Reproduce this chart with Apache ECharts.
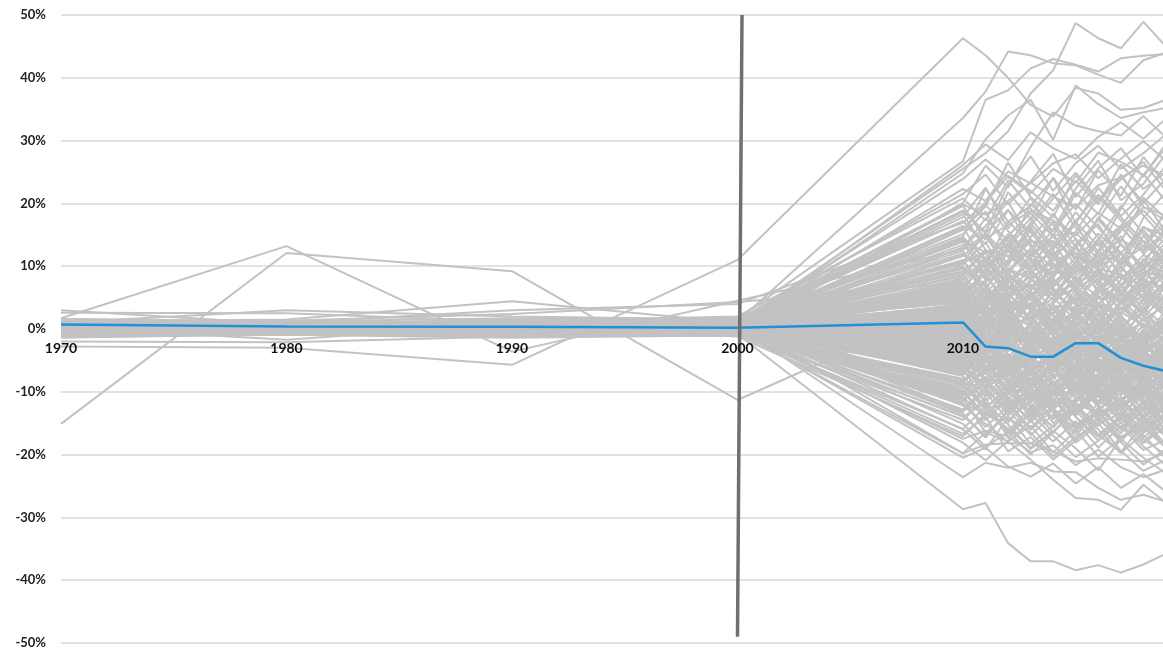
<!DOCTYPE html>
<html>
<head>
<meta charset="utf-8">
<script src="https://cdn.jsdelivr.net/npm/echarts@6/dist/echarts.min.js"></script>
<style>
  html, body { margin: 0; padding: 0; background: #ffffff; }
  #chart { width: 1163px; height: 652px; }
</style>
</head>
<body>
<div id="chart"></div>
<script>
// Observation years: decadal up to 2010, then annual.
const years = [1970, 1980, 1990, 2000, 2010, 2011, 2012, 2013, 2014, 2015, 2016, 2017, 2018, 2019];

// Axis ticks and visible range
const yTicks = [-50, -40, -30, -20, -10, 0, 10, 20, 30, 40, 50];
const xTicks = [1970, 1980, 1990, 2000, 2010];
const xRange = [1970, 2018.87];

// Average change (%), drawn in blue
const averageChange = [0.7, 0.4, 0.35, 0.2, 1.05, -2.8, -3.05, -4.4, -4.4, -2.25, -2.25, -4.6, -5.85, -6.7];

// Break marker at 2000 (year, %)
const breakYears = [2000.2, 2000.0];
const breakValues = [50, -49];

// Paths ending high
const risingPaths = [
  [0.9, 0.5, 1.1, 0.8, 25.5, 28.0, 31.5, 37.5, 41.2, 48.7, 46.3, 44.7, 48.9, 45.0],
  [0.4, 0.2, 0.6, 1.2, 33.6, 37.8, 44.2, 43.6, 42.3, 42.0, 40.5, 39.2, 42.8, 44.0],
  [-2.8, -3.0, -5.7, 11.0, 46.3, 43.6, 40.0, 35.7, 33.8, 38.4, 37.5, 34.9, 35.2, 36.5],
  [-0.2, 0.3, 0.9, 1.7, 26.7, 36.5, 38.0, 41.5, 43.0, 42.1, 41.0, 43.1, 43.5, 43.8],
  [1.1, 0.6, 0.4, 0.3, 24.8, 30.2, 34.0, 36.5, 30.1, 38.8, 35.8, 33.6, 34.5, 35.2],
  [0.6, -0.2, 0.2, -0.6, 20.1, 26.0, 22.5, 29.0, 34.5, 32.4, 31.5, 30.8, 33.9, 30.5],
  [-0.5, 0.1, 1.4, 0.9, 18.7, 15.5, 23.0, 27.5, 22.0, 26.4, 29.2, 25.5, 28.0, 31.0],
  [0.2, 0.7, -0.4, 1.5, 21.5, 24.6, 19.8, 23.5, 27.9, 21.0, 25.6, 28.8, 24.2, 29.5],
  [1.5, 0.9, 0.5, -0.1, 15.8, 19.5, 26.5, 21.0, 17.8, 24.5, 20.2, 23.8, 26.6, 22.0],
  [-0.9, -0.3, 0.8, 0.6, 14.7, 22.3, 17.1, 19.6, 24.0, 16.8, 22.5, 18.0, 21.4, 26.0],
  [0.5, 0.3, 0.6, 0.6, 22.3, 20.4, 25.1, 23.2, 26.4, 27.8, 24.0, 27.1, 29.9, 26.8],
  [-0.2, 0.1, 0.4, 0.8, 23.9, 27.0, 24.2, 21.6, 25.5, 23.3, 28.1, 26.6, 24.5, 28.9],
  [-0.5, -0.1, 0.3, 0.2, 26.1, 29.4, 26.9, 31.3, 28.8, 27.1, 30.6, 32.9, 30.3, 33.5],
  [-15.1, 12.1, 9.2, -11.3, 4.6, 6.5, 3.2, 8.0, 5.5, 9.8, 7.1, 4.0, 6.6, 8.2],
  [1.7, 13.2, -3.6, 4.5, 12.6, 15.0, 10.3, 14.1, 11.5, 17.0, 13.2, 16.5, 12.0, 15.1]
];

// Paths ending low
const fallingPaths = [
  [0.6, 0.4, -0.2, -0.8, -28.7, -27.7, -34.1, -37.0, -37.0, -38.4, -37.6, -38.8, -37.5, -35.8],
  [-0.1, -0.6, 0.3, 0.4, -23.6, -21.3, -22.1, -21.3, -22.7, -22.8, -25.3, -27.2, -26.4, -27.5],
  [1.0, 0.3, 0.9, -0.4, -19.8, -16.5, -17.9, -20.8, -24.0, -26.9, -27.2, -28.8, -24.8, -27.7],
  [-0.7, 0.2, -0.9, 1.0, -19.8, -18.4, -18.2, -18.2, -19.5, -21.1, -20.6, -20.8, -21.1, -19.7],
  [0.3, -0.3, 0.6, -1.2, -17.1, -13.5, -15.8, -18.9, -16.2, -19.0, -22.5, -17.5, -20.5, -23.0],
  [0.8, 0.5, -0.5, 0.2, -16.0, -19.2, -14.1, -16.5, -20.3, -17.2, -15.0, -19.4, -22.6, -20.8],
  [-1.4, -0.7, 0.2, -0.9, -14.5, -11.0, -17.4, -13.2, -15.5, -12.1, -16.8, -14.0, -18.2, -15.5],
  [0.1, 0.9, 1.2, 0.6, -11.8, -15.6, -12.3, -16.1, -12.8, -15.9, -13.3, -17.5, -13.9, -17.0],
  [0.5, -0.1, -1.1, -0.3, -8.1, -12.5, -9.8, -14.0, -10.4, -13.5, -9.6, -12.9, -16.0, -12.2],
  [-0.3, 0.4, 0.7, 1.3, -13.0, -9.2, -13.8, -10.1, -14.4, -9.8, -14.7, -11.1, -9.5, -14.0],
  [0.8, 0.4, 0.1, -0.3, -20.5, -18.9, -21.9, -23.5, -21.4, -24.6, -22.0, -25.3, -23.1, -25.9],
  [-0.3, -0.4, -0.6, -0.5, -17.5, -16.2, -17.1, -19.6, -18.5, -21.7, -19.2, -22.0, -23.6, -22.4]
];

// Paths in the upper part of the band
const upperPaths = [
  [0.6, 0.3, 0.9, 1.1, 19.6, 14.2, 21.8, 17.5, 24.1, 19.0, 25.3, 21.2, 27.4, 23.0],
  [-0.4, 0.1, 0.5, 0.8, 17.8, 22.5, 16.0, 20.9, 14.8, 21.7, 18.3, 24.6, 19.5, 17.2],
  [3.0, 0.8, 1.5, 0.8, 16.2, 10.5, 15.1, 11.8, 18.4, 13.0, 9.7, 16.2, 12.5, 19.0],
  [0.2, -0.3, 0.4, 0.9, 15.1, 18.7, 12.3, 19.9, 16.5, 11.2, 17.8, 13.9, 20.6, 15.4],
  [0.9, 0.6, 0.2, 0.5, 13.9, 8.8, 14.6, 9.5, 12.7, 16.9, 10.4, 14.8, 8.6, 12.1],
  [-0.8, -0.5, -0.2, 0.3, 13.0, 16.4, 20.2, 14.3, 10.9, 15.5, 21.0, 17.3, 13.1, 18.8],
  [1.5, 1.0, 0.7, 1.4, 12.4, 7.9, 11.0, 15.8, 10.2, 6.8, 12.6, 9.1, 14.9, 10.3],
  [0.3, 0.7, 1.2, -0.2, 11.6, 14.9, 9.3, 12.8, 17.1, 12.0, 8.5, 13.5, 10.0, 16.6],
  [-0.2, 0.4, 0.8, 0.6, 11.0, 5.6, 9.7, 6.2, 11.8, 14.3, 9.0, 5.3, 11.2, 7.7],
  [1.0, 0.2, -0.5, 1.9, 10.3, 13.8, 8.1, 16.2, 11.4, 8.9, 14.1, 19.6, 15.2, 12.0],
  [0.5, 0.9, 0.3, 0.1, 9.8, 6.1, 12.5, 8.0, 4.6, 10.8, 7.2, 12.3, 6.5, 9.4],
  [-0.6, -0.1, 0.6, 1.3, 9.2, 12.1, 7.4, 10.6, 13.9, 8.4, 11.7, 7.0, 10.9, 14.5],
  [0.8, 0.4, 1.0, 0.4, 8.6, 4.2, 7.8, 3.1, 6.9, 11.5, 5.8, 8.9, 4.7, 7.1],
  [2.6, 2.5, 1.2, 2.0, 20.8, 17.3, 23.7, 19.2, 15.6, 22.4, 26.8, 20.5, 23.1, 27.9],
  [0.0, 0.5, 0.1, 0.7, 18.3, 12.6, 10.1, 17.0, 21.5, 16.1, 12.4, 19.1, 24.7, 20.3],
  [-1.1, -0.6, -0.8, -0.3, 14.4, 9.9, 17.2, 13.5, 8.1, 13.6, 16.7, 11.0, 16.3, 13.6],
  [0.7, 1.1, 0.4, 0.2, 12.9, 17.6, 14.0, 8.7, 13.3, 18.6, 14.6, 10.5, 17.7, 21.8],
  [0.5, 1.0, 3.0, 4.0, 16.9, 20.1, 24.4, 22.0, 18.8, 23.6, 19.9, 26.2, 22.3, 25.0],
  [0.4, 0.0, -0.4, 0.5, 10.7, 15.3, 19.0, 13.1, 9.6, 12.9, 17.5, 22.7, 18.1, 14.2],
  [-0.3, 0.3, 0.7, -0.5, 7.9, 11.3, 5.5, 9.8, 15.0, 10.1, 6.3, 10.2, 15.8, 11.5],
  [1.2, 0.9, 0.7, 1.1, 14.1, 12.2, 13.4, 10.0, 12.2, 9.0, 11.5, 14.2, 12.4, 15.6],
  [0.8, 0.5, 1.0, 0.8, 9.1, 8.2, 10.8, 13.9, 14.0, 11.5, 9.9, 12.0, 16.2, 14.8],
  [0.6, 0.4, 0.6, 0.9, 10.5, 12.4, 11.6, 9.2, 10.5, 6.4, 8.7, 8.1, 10.4, 9.0],
  [0.7, 0.6, 0.7, 0.4, 16.4, 14.4, 16.6, 18.8, 17.3, 14.9, 18.5, 16.0, 19.4, 18.1],
  [1.0, 0.9, 1.2, 1.4, 19.8, 18.2, 20.4, 23.3, 21.1, 19.3, 22.9, 24.1, 26.0, 24.4],
  [1.0, 0.7, 0.6, 0.4, 11.8, 10.0, 12.9, 11.3, 14.9, 15.3, 12.0, 10.6, 13.1, 17.0]
];

// Paths in the middle of the band
const corePaths = [
  [0.5, 0.2, 0.4, 0.3, 7.6, 2.1, 5.9, 1.0, 4.4, 8.3, 3.0, -1.2, 2.8, -0.5],
  [-0.5, -0.2, -0.7, -0.4, 7.1, 3.5, -0.8, 2.6, -2.9, 1.7, 5.2, 0.4, -3.1, 1.9],
  [1.0, 3.0, 2.0, 1.5, 6.8, 10.2, 4.9, 7.5, 11.6, 6.0, 2.1, 6.7, 9.8, 4.3],
  [0.2, -0.1, 0.3, 0.0, 6.3, 1.5, -2.7, -0.6, -5.1, -1.8, -6.0, -2.4, -7.3, -4.5],
  [-1.0, -0.7, -1.2, -0.8, 5.9, 0.2, 3.7, -1.9, 1.4, -3.3, 0.8, -4.6, -2.0, -6.1],
  [0.8, 0.5, 0.1, 0.6, 5.5, 8.9, 3.2, 5.8, 0.9, 4.7, 8.1, 2.5, 6.4, 3.6],
  [1.6, 1.2, 1.7, 1.5, 5.0, -0.9, 2.2, -3.6, -0.3, -4.8, -1.5, -5.9, -3.0, -8.2],
  [-0.3, 0.1, -0.5, 0.2, 4.7, 7.3, 1.6, 3.9, -1.0, 2.9, 6.6, 1.1, -2.2, 0.7],
  [0.3, 0.6, 0.8, 0.9, 4.3, -1.7, -4.9, -2.2, -6.8, -3.9, -8.1, -5.2, -9.4, -6.6],
  [-0.7, -0.4, -0.1, -0.6, 4.0, 9.6, 6.1, 12.2, 7.9, 4.2, 9.3, 5.4, 11.0, 6.8],
  [1.4, 0.9, 1.1, 0.8, 3.6, -2.5, 0.6, -4.3, -1.3, -6.5, -3.6, 0.3, -4.9, -2.8],
  [0.1, 0.3, -0.2, 0.4, 3.3, 6.0, 1.9, -0.7, 3.5, 0.0, -3.4, 1.8, -1.6, 3.0],
  [-1.3, -0.9, -1.4, -1.0, 3.0, -3.8, -7.5, -5.0, -9.2, -6.1, -10.4, -7.7, -11.5, -9.0],
  [0.6, 0.1, 0.5, 0.1, 2.7, 5.1, -0.4, 2.0, -3.2, 1.2, -1.9, -5.3, -0.8, -4.0],
  [0.9, 0.6, 1.4, 1.0, 2.4, -1.0, 4.5, 0.5, 6.3, 2.4, -0.9, 4.1, 7.5, 2.6],
  [-0.1, -0.3, 0.0, -0.2, 2.1, -4.5, -1.2, -6.9, -3.5, -8.8, -5.7, -10.1, -6.8, -11.9],
  [0.4, 0.8, 0.6, 0.3, 1.8, 4.6, 8.2, 3.4, 0.1, 5.0, 1.6, -1.8, 3.3, 0.4],
  [-0.9, -0.5, -0.6, -0.9, 1.5, -2.0, -5.6, -1.5, -4.6, -0.2, -3.9, -7.4, -2.5, -5.8],
  [1.2, 0.4, 0.2, 0.7, 1.2, -5.3, -2.1, -8.0, -4.2, -9.9, -7.1, -3.5, -8.9, -12.3],
  [0.0, 0.2, 0.9, 0.5, 0.9, 3.0, -0.1, 5.7, 2.3, -1.4, 3.8, 7.2, 1.9, 5.5],
  [-0.4, -0.8, -0.3, -0.1, 0.6, -3.1, 1.3, -2.6, -6.3, -2.7, -7.0, -3.8, -8.4, -5.0],
  [0.7, 0.3, 0.7, 1.1, 0.3, 6.2, 2.7, -1.3, 4.0, 8.0, 3.6, -0.3, 4.8, 9.2],
  [0.3, -1.7, 0.8, 0.5, 0.0, -6.0, -9.3, -6.4, -10.5, -7.4, -11.8, -8.8, -13.0, -10.2],
  [-0.2, 0.0, 0.2, -0.3, -0.3, 2.5, -3.4, 0.8, -4.8, -1.6, 1.5, -3.7, -0.1, -5.5],
  [0.3, -0.4, -0.9, -0.7, -0.6, -4.0, -0.6, -5.2, -1.8, -5.9, -2.8, -6.6, -9.6, -7.0],
  [-1.2, -0.6, -1.0, -1.1, -0.9, 3.9, 0.2, 4.2, -0.5, 3.1, -2.1, 2.2, -1.8, 2.1],
  [0.5, 0.5, 0.3, 0.2, -1.2, -7.2, -3.9, -9.7, -6.0, -11.3, -8.2, -12.6, -9.9, -13.7],
  [1.0, 0.8, 1.2, 0.9, -1.5, 1.4, -2.4, 3.0, -1.1, -4.4, 0.5, -2.9, 1.7, -1.3],
  [-0.6, -0.3, -0.4, -0.5, -1.8, -5.9, -8.4, -4.1, -7.7, -3.0, -6.4, -9.9, -5.6, -8.6],
  [0.2, 0.6, 0.4, 0.8, -2.1, 0.9, 4.8, 1.5, 6.2, 2.8, -0.7, 3.5, 0.2, 4.9],
  [0.8, 0.2, -0.1, 0.0, -2.4, -6.8, -4.4, -8.9, -5.4, -2.2, -6.7, -3.2, -7.8, -4.8],
  [-0.3, -0.1, -0.7, -0.4, -2.7, -0.5, -3.6, 1.1, -2.5, 0.6, -4.4, -1.0, -5.5, -2.3],
  [1.3, 0.7, 0.8, 1.4, -3.0, -8.6, -11.2, -7.8, -12.7, -9.6, -13.9, -10.8, -15.2, -12.0],
  [0.0, 0.4, 0.6, 0.2, -3.3, 1.7, -1.5, 2.9, -0.9, -5.0, -1.4, -6.2, -2.7, 0.3],
  [-0.8, -0.6, -0.9, -0.6, -3.6, -6.4, -2.6, -7.3, -3.7, -8.0, -4.5, -1.1, -6.0, -9.6],
  [0.6, 0.1, 0.1, 0.4, -3.9, -1.2, -5.8, -2.0, -6.9, -3.4, -9.0, -5.4, -10.4, -7.5],
  [-0.1, -0.2, 0.3, -0.1, -4.2, -9.7, -6.3, -11.5, -8.3, -12.9, -9.5, -6.0, -11.7, -14.6],
  [1.5, 1.0, 1.0, 0.7, -4.5, -0.4, -3.0, 0.9, -4.1, -7.6, -3.2, -8.5, -4.4, -9.0],
  [0.4, 0.3, -0.3, 0.3, -4.8, -8.0, -12.4, -9.1, -6.0, -10.7, -14.1, -11.4, -8.2, -12.8],
  [-0.5, -0.9, -0.5, -0.8, -5.1, -2.3, -7.0, -3.9, -1.5, -6.3, -2.0, -7.1, -3.6, -8.1],
  [0.9, 0.4, 0.7, 0.9, -5.4, -10.8, -8.1, -13.6, -10.2, -7.1, -12.0, -9.3, -14.3, -11.0],
  [-0.2, 0.2, 0.0, 0.1, -5.7, -3.6, -8.8, -5.9, -10.6, -8.4, -5.1, -10.0, -7.0, -11.4],
  [0.1, 0.0, 0.5, 0.6, -6.0, -1.9, 0.9, -3.4, 1.8, -2.0, -5.6, -1.7, -6.4, -3.1],
  [-1.1, -0.8, -1.1, -0.7, -6.3, -11.9, -15.0, -10.3, -13.1, -16.4, -12.5, -15.9, -13.0, -16.9],
  [0.7, 0.6, 0.2, 0.5, -6.6, -4.4, -9.9, -7.2, -11.8, -5.6, -9.7, -13.1, -8.8, -11.6],
  [0.2, 0.1, 0.4, 0.0, -6.9, -3.0, -6.2, -2.3, -5.8, -10.1, -7.5, -4.2, -9.5, -6.3],
  [1.2, 1.5, 4.4, 1.0, 6.0, 11.5, 7.0, 3.7, 8.6, 12.9, 7.6, 3.9, 8.2, 13.3],
  [-0.4, -0.1, -0.2, 0.2, 5.2, 0.8, 6.9, 4.6, 10.4, 5.8, 1.1, 6.9, 3.2, 8.0],
  [0.6, 0.5, 0.9, 0.3, 3.8, 7.9, 12.9, 9.1, 5.3, 9.2, 13.8, 8.3, 5.0, 10.6],
  [-0.6, -0.4, -0.8, -0.2, 2.5, -0.3, -4.0, -7.1, -2.4, -6.8, -10.9, -6.9, -3.4, -7.9],
  [0.3, 0.7, 0.1, 0.5, 1.0, 4.1, 9.0, 5.5, 1.1, 6.4, 10.8, 5.7, 2.4, 7.2],
  [1.0, 0.3, 0.6, 0.6, -0.4, -2.8, 2.0, -1.6, -4.5, 1.0, -2.3, -5.6, -1.4, -6.9],
  [-0.7, -0.2, -0.6, -0.3, -1.0, 2.4, 6.8, 3.3, 7.6, 4.5, 0.9, 5.8, 2.1, -0.6],
  [0.0, -0.5, 0.3, -0.6, -2.0, -4.8, -10.0, -12.4, -8.7, -13.8, -10.1, -14.5, -11.6, -16.2],
  [0.5, 0.6, 0.9, 0.7, -3.5, 0.4, 3.4, -1.6, 3.9, 0.6, 4.3, -0.6, -4.1, 1.5],
  [-0.9, -0.7, -0.4, -0.9, -4.6, -7.0, -3.3, 0.5, -3.0, -7.3, -3.9, 0.1, -4.7, -8.6],
  [0.8, 1.3, 2.4, 4.3, 7.4, 4.3, 9.1, 12.6, 6.7, 9.9, 14.4, 10.0, 6.0, 10.9],
  [0.2, -0.2, -0.1, 0.0, -5.9, -9.1, -5.0, -10.4, -14.2, -11.2, -7.8, -12.2, -16.4, -13.4],
  [-0.5, 0.2, 0.5, 0.4, 0.4, -2.2, -6.1, -3.1, 0.3, -4.4, -8.6, -4.6, -1.2, -6.2],
  [0.8, 0.6, 0.4, 0.8, -2.9, -5.5, -1.8, -4.7, -0.1, -4.9, -1.2, -5.0, -0.6, -3.8]
];

// Further paths through the middle of the band
const driftPaths = [
  [0.9, 0.4, 1.3, 0.6, 5.8, 3.2, 7.9, 9.4, 6.1, 2.5, 4.8, 8.7, 5.0, 1.9],
  [-0.2, 0.3, -0.6, 0.2, 2.9, 6.5, 4.1, -1.8, -4.0, 0.7, 2.2, -2.9, -6.1, -3.0],
  [0.6, 0.0, 0.2, -0.4, -1.4, -5.2, -6.7, -2.1, 1.6, -0.9, -5.3, -8.9, -6.0, -2.7],
  [1.4, 0.8, 0.3, 1.0, 9.6, 7.0, 2.8, 5.2, 9.9, 13.1, 9.5, 6.0, 2.7, 6.8],
  [-0.6, -0.2, 0.4, -0.1, -4.4, -0.8, 2.5, 4.9, 0.4, -3.6, -7.9, -4.0, 0.8, -1.7],
  [0.2, 0.5, 0.9, 1.3, 12.0, 8.3, 4.5, 9.0, 6.6, 1.8, 5.5, 11.2, 7.9, 4.0],
  [-1.0, -0.5, -0.3, -0.8, -8.5, -5.3, -1.4, -6.0, -9.8, -6.7, -2.6, 1.4, -3.3, -7.2],
  [0.5, 0.2, 0.6, 0.4, 1.6, -2.4, -7.8, -11.0, -6.6, -3.4, -8.0, -12.3, -9.1, -5.2],
  [1.1, 0.6, 1.5, 0.9, 14.6, 11.1, 6.8, 2.9, 7.3, 10.6, 15.2, 11.9, 7.1, 3.5],
  [-0.4, -0.7, -0.6, -0.4, -6.1, -9.5, -13.0, -9.0, -4.9, -8.6, -12.4, -16.1, -12.8, -8.4],
  [0.3, 0.1, 0.5, 0.7, 4.8, 9.0, 13.2, 16.8, 12.5, 7.8, 11.0, 15.6, 18.9, 15.0],
  [-0.1, 0.2, -0.2, -0.3, -2.6, 1.1, -1.9, -6.5, -10.3, -7.0, -3.1, -7.3, -10.6, -14.0],
  [0.8, 0.9, 0.5, 0.2, 8.1, 5.4, 1.2, -2.7, 1.5, 5.6, 1.0, -3.2, -7.0, -3.6],
  [-0.8, -0.3, -1.0, -0.6, -9.9, -13.6, -9.7, -5.6, -1.9, -5.0, -9.3, -5.8, -2.3, -6.0],
  [1.6, 1.1, 0.8, 1.2, 17.2, 13.5, 18.9, 15.3, 11.7, 7.5, 12.2, 16.4, 20.9, 17.6],
  [0.0, -0.1, 0.1, 0.3, -0.1, 3.6, 7.4, 11.2, 8.0, 3.8, 0.0, 4.4, 8.6, 12.4],
  [0.4, 0.6, 0.2, -0.5, -3.8, -7.9, -4.6, -0.3, 3.2, -0.8, -4.6, -1.0, -5.4, -9.3],
  [-0.5, -0.3, 0.1, 0.6, 6.7, 2.9, -1.6, -5.4, -8.9, -5.3, -1.7, -6.1, -2.0, 2.4],
  [1.2, 0.5, 0.6, 0.5, 3.1, -1.1, -5.2, -8.4, -12.1, -8.9, -5.4, -9.7, -13.7, -10.5],
  [-0.3, 0.4, 0.4, 0.0, 10.9, 6.7, 10.4, 14.6, 18.2, 14.4, 10.0, 13.6, 9.4, 13.0],
  [0.7, 0.3, 0.8, 0.2, -5.0, -1.5, 1.8, -2.4, -6.0, -9.6, -5.9, -2.1, 1.6, -2.2],
  [-0.9, -0.6, -0.3, -0.7, -11.2, -7.9, -12.0, -8.1, -4.3, -0.7, -4.9, -8.7, -12.0, -8.6],
  [0.1, 0.2, 0.7, 0.9, 7.3, 11.1, 15.0, 10.8, 6.2, 2.0, -1.9, 2.6, 6.6, 2.2],
  [1.0, 0.7, 0.0, 0.3, -0.7, -4.3, -8.2, -4.5, -8.6, -12.1, -15.4, -11.8, -7.7, -11.3],
  [-0.2, 0.0, 0.3, -0.2, 2.2, 5.9, 2.0, 6.1, 10.1, 6.3, 2.6, -1.3, 2.9, 7.0],
  [0.6, 0.4, -0.4, 0.1, -7.2, -3.3, 0.4, 4.0, 0.3, -3.8, -0.2, -4.1, -8.3, -4.3],
  [-0.7, -0.4, 0.2, 0.4, 13.4, 9.7, 13.8, 17.6, 13.0, 17.2, 21.4, 17.8, 13.9, 9.8],
  [0.3, 0.0, -0.8, -0.9, -13.8, -17.0, -13.1, -9.3, -12.9, -8.9, -12.1, -15.8, -11.9, -8.0],
  [1.3, 0.9, 1.0, 1.6, 4.5, 0.6, -3.5, 0.3, -3.9, -7.5, -3.4, 0.8, -3.8, -7.9],
  [-0.5, -0.5, -0.4, -0.3, -3.1, -6.9, -10.9, -14.9, -11.4, -7.6, -11.5, -7.6, -11.2, -15.3],
  [0.2, 0.3, 0.6, 0.1, 0.8, 4.9, 1.0, 5.0, 1.2, 5.4, 9.6, 5.3, 9.5, 5.6],
  [0.9, 0.6, 0.9, 0.7, 6.4, 10.8, 14.8, 18.5, 14.7, 11.0, 6.9, 3.1, 7.3, 11.6],
  [-0.1, -0.4, -0.2, -0.6, -5.6, -9.2, -5.4, -9.4, -13.2, -16.9, -13.2, -9.4, -5.7, -9.7],
  [0.4, 0.1, 0.3, 0.8, 1.3, -2.7, 1.4, -2.5, 1.7, -2.4, -6.2, -10.2, -6.5, -10.6],
  [-1.2, -0.7, -0.9, -0.4, -1.9, 2.0, 5.7, 1.7, -2.0, 1.9, 5.9, 9.8, 6.0, 1.8],
  [0.7, 0.5, 0.4, 0.3, 15.9, 19.8, 15.6, 11.6, 15.8, 19.9, 16.1, 12.1, 8.0, 12.2],
  [0.1, -0.1, 0.0, -0.1, -4.1, -0.1, -4.2, -8.1, -4.0, -0.1, 3.9, -0.2, 3.8, 7.8],
  [1.5, 1.0, 1.2, 1.0, 10.0, 5.9, 1.9, 6.0, 2.1, -1.8, 2.3, -1.7, -5.6, -1.5],
  [-0.6, -0.1, -0.5, -0.5, -10.1, -6.4, -2.6, -6.4, -10.2, -14.0, -17.8, -14.1, -18.1, -14.3],
  [0.5, 0.2, 0.7, 0.4, 2.0, -2.3, -5.1, -1.7, 2.6, 6.9, 2.8, -1.4, -6.3, -1.9],
  [0.2, 0.7, 1.1, 1.1, 18.9, 15.2, 11.5, 16.4, 20.8, 24.9, 20.6, 24.3, 20.1, 23.9],
  [-0.3, -0.2, -0.7, -0.9, -15.9, -12.3, -16.2, -20.0, -16.5, -12.8, -9.3, -13.0, -16.9, -20.6],
  [0.9, 0.3, 0.2, 0.6, 5.3, 9.5, 5.7, 1.4, 5.1, 1.3, 5.6, 10.0, 14.1, 10.4],
  [-0.8, -0.4, -0.6, -0.2, -2.3, -6.1, -2.2, -6.0, -9.9, -6.2, -10.0, -13.9, -10.0, -6.2],
  [0.4, 0.8, 0.6, 0.9, 8.4, 12.6, 8.8, 4.7, 8.9, 13.2, 17.4, 13.5, 9.6, 13.9],
  [0.0, 0.1, 0.3, 0.0, -6.4, -2.6, -6.5, -10.5, -6.9, -2.9, 1.0, -3.0, -7.0, -3.2],
  [1.1, 0.8, 1.3, 0.5, 0.1, -3.9, 0.0, 4.1, 8.0, 4.2, 0.2, 4.3, 0.4, -3.5],
  [-0.4, -0.2, -0.1, -0.8, -8.9, -12.8, -8.8, -12.6, -16.4, -12.7, -8.9, -5.1, -9.0, -12.9]
];

// Slow-moving paths near the centre of the band
const steadyPaths = [
  [0.2, 0.4, 0.6, 0.5, 3.5, 1.2, 1.8, -0.9, 0.3, 2.9, 6.4, 5.1, 4.0, 7.7],
  [-0.3, 0.0, -0.4, -0.1, -1.1, -1.6, -4.7, -5.0, -3.2, -4.1, -1.0, -2.6, -6.9, -8.0],
  [0.7, 0.2, 0.3, 0.9, 8.9, 9.3, 6.4, 7.1, 3.0, 4.6, 3.9, 7.8, 11.8, 9.5],
  [-0.5, -0.1, -0.7, -0.3, -5.3, -6.6, -5.9, -8.7, -7.9, -4.5, -5.5, -9.0, -10.2, -6.9],
  [0.0, 0.3, 0.2, -0.1, 1.4, 0.5, -1.3, 2.8, 3.1, 0.1, -1.9, -0.5, 0.9, -2.6],
  [0.4, 0.6, 0.5, 0.7, -0.5, 1.8, 3.9, 3.3, -0.2, -2.4, 0.3, 1.0, -1.5, -0.4],
  [-0.8, -0.5, -0.4, -0.6, -7.9, -7.1, -9.6, -10.0, -12.0, -11.3, -9.4, -10.5, -8.4, -10.9],
  [0.9, 0.8, 1.1, 1.2, 4.2, 5.7, 3.6, 6.6, 5.4, 7.4, 8.8, 6.1, 9.0, 8.4],
  [-0.1, -0.2, 0.1, 0.2, -3.4, -2.0, -2.9, -0.8, -3.0, -5.6, -3.3, -4.9, -4.0, -1.3],
  [0.5, 0.1, 0.4, 0.0, 6.6, 5.0, 8.4, 6.8, 9.2, 8.1, 5.0, 4.6, 7.9, 6.3],
  [-0.6, -0.3, -0.5, -0.6, -9.4, -10.5, -7.2, -8.2, -5.9, -9.1, -11.8, -12.2, -9.8, -11.6],
  [0.3, 0.5, 0.8, 0.6, 2.6, 2.7, 0.1, -2.9, -2.2, -0.6, -3.8, -3.9, -0.3, -2.1],
  [-0.2, 0.0, -0.3, 0.1, -2.2, -3.5, -1.0, -1.9, 0.8, -1.2, -4.7, -7.8, -5.1, -4.4],
  [0.6, 0.3, 0.2, 0.3, 5.6, 4.4, 4.0, 1.9, 2.5, 3.6, 6.0, 4.7, 1.3, 0.9],
  [-1.0, -0.7, -0.5, -0.3, -6.8, -5.1, -4.3, -6.3, -4.6, -7.0, -6.3, -2.8, -4.5, -5.6],
  [0.1, 0.4, 0.0, 0.4, 0.7, -0.7, 0.5, -0.5, -2.0, -3.6, -5.1, -4.4, -3.7, -5.3],
  [-0.4, -0.2, -0.1, -0.4, -4.0, -3.2, -5.5, -3.5, -5.3, -6.6, -8.3, -7.9, -5.6, -7.4],
  [0.2, 0.1, 0.3, 0.2, 3.9, 2.6, 5.1, 7.0, 4.7, 6.6, 4.1, 2.3, 5.6, 4.6],
  [-0.7, -0.4, -0.8, -0.5, -10.6, -9.0, -11.0, -12.9, -10.0, -11.9, -13.4, -11.6, -13.9, -12.5],
  [0.5, 0.7, 0.4, 0.3, 1.9, 3.4, 2.4, 0.4, -0.9, 1.6, 0.2, -2.6, -3.5, -1.0],
  [-0.3, -0.5, -0.2, 0.0, -1.6, 0.3, -0.3, -3.8, -5.8, -4.7, -6.5, -5.1, -8.0, -9.2],
  [1.1, 0.6, 0.9, 0.6, 7.0, 6.3, 5.2, 8.5, 7.3, 10.0, 8.4, 5.9, 4.4, 5.1],
  [0.0, -0.1, 0.2, -0.2, -0.2, -1.3, -3.0, -4.6, -2.7, -1.1, -2.5, -4.8, -4.2, -6.4],
  [0.4, 0.2, 0.5, 0.5, 2.3, 0.1, 2.9, 1.3, 3.7, 3.3, 1.2, 2.7, 0.6, -0.8],
  [-0.9, -0.6, -0.7, -0.4, -7.0, -8.4, -6.6, -4.9, -7.2, -8.8, -10.2, -8.5, -7.5, -9.8],
  [-0.2, 0.1, -0.2, -0.1, -3.7, -4.9, -2.4, -3.9, -1.2, -3.1, -0.5, -2.0, -1.9, -4.1],
  [0.3, 0.3, 0.1, 0.1, 0.2, 0.9, -1.7, -1.4, 1.0, 2.0, -0.6, -3.0, -2.2, 0.6],
  [0.9, 0.5, 0.8, 0.7, 6.1, 7.5, 9.6, 8.0, 10.9, 12.1, 9.7, 8.6, 6.9, 8.9],
  [-0.5, -0.3, -0.6, -0.7, -8.6, -9.9, -12.6, -11.7, -9.6, -10.5, -8.0, -9.7, -12.7, -14.9],
  [0.1, 0.2, 0.4, 0.6, 4.6, 2.3, 3.1, 5.0, 2.2, 0.8, 2.5, 3.4, 1.4, 3.9],
  [-0.4, 0.0, -0.3, -0.2, -2.8, -1.8, -5.3, -6.2, -4.3, -6.0, -7.6, -6.3, -5.0, -3.4],
  [-0.6, -0.5, -0.3, -0.3, -12.0, -13.3, -11.4, -14.4, -12.7, -15.1, -14.4, -17.1, -15.8, -13.4],
  [0.2, 0.0, 0.0, -0.2, -0.8, 0.0, 1.5, -1.0, -3.9, -2.9, -4.0, -1.6, -2.9, -4.9]
];

// Paths in the lower part of the band
const lowerPaths = [
  [0.4, 0.2, 0.1, 0.4, -7.5, -11.4, -8.6, -14.3, -11.0, -15.5, -12.9, -17.9, -14.0, -18.6],
  [-0.3, -0.6, -0.2, -0.7, -8.2, -4.9, -10.5, -7.0, -12.3, -9.1, -6.2, -11.5, -8.1, -13.5],
  [-2.0, -2.1, -1.2, -0.5, -8.8, -13.0, -16.2, -12.6, -9.0, -14.0, -17.2, -13.7, -10.3, -15.0],
  [-0.8, -0.4, -0.7, -0.5, -9.3, -6.1, -11.7, -15.8, -12.1, -9.5, -13.5, -16.6, -12.4, -9.9],
  [0.6, 0.3, 0.8, 0.5, -9.8, -14.5, -11.1, -8.4, -13.3, -17.6, -14.8, -11.0, -15.7, -18.9],
  [0.1, 0.0, -0.3, -0.2, -10.4, -7.6, -13.4, -9.9, -15.0, -11.7, -8.7, -13.8, -17.3, -14.2],
  [-1.2, -0.8, -1.2, -0.9, -11.0, -16.5, -13.9, -18.3, -15.4, -12.6, -16.0, -19.8, -16.6, -13.7],
  [0.9, 0.5, 0.3, 0.1, -11.5, -8.3, -5.8, -10.9, -7.4, -12.8, -9.0, -6.4, -10.9, -8.4],
  [0.3, 0.1, 0.7, 0.9, -12.2, -15.1, -18.0, -14.6, -17.9, -14.7, -18.9, -15.4, -19.3, -17.6],
  [-0.4, -0.3, -0.5, -0.4, -12.8, -10.0, -14.6, -11.3, -8.3, -12.9, -10.6, -15.0, -11.9, -16.4],
  [0.7, 0.4, 0.5, 0.3, -13.5, -17.3, -12.9, -16.9, -13.6, -18.1, -15.2, -13.4, -17.6, -20.0],
  [-0.1, 0.2, 0.0, -0.1, -14.0, -11.7, -15.2, -19.1, -16.3, -13.0, -16.9, -19.6, -15.1, -18.3],
  [1.2, 0.8, 1.0, 0.6, -15.1, -18.8, -16.4, -13.5, -17.0, -20.4, -17.8, -14.9, -18.7, -21.7],
  [-0.6, -0.2, -0.9, -0.6, -16.7, -14.0, -19.5, -17.2, -20.8, -17.7, -14.2, -18.0, -21.6, -19.1],
  [0.5, 0.1, 0.2, 0.2, -18.1, -20.9, -17.8, -15.4, -19.7, -16.1, -20.3, -17.4, -15.0, -18.9],
  [0.0, -0.4, 0.4, -0.3, -10.9, -13.9, -9.6, -6.8, -11.1, -15.6, -11.8, -8.0, -13.1, -10.5],
  [-0.9, -0.6, -0.8, -0.2, -13.2, -9.4, -6.9, -12.0, -15.7, -11.4, -7.3, -11.9, -14.8, -12.1],
  [0.2, 0.6, 0.2, 0.7, -9.0, -12.2, -16.8, -13.2, -10.0, -15.9, -13.0, -9.2, -14.6, -17.0]
];

const chart = echarts.init(document.getElementById('chart'), null, { renderer: 'canvas' });

const toPoints = (values) => values.map((v, i) => [years[i], v]);

const grayPaths = [].concat(upperPaths, corePaths, driftPaths, steadyPaths, lowerPaths, risingPaths, fallingPaths);

const graySeries = grayPaths.map((path) => ({
  type: 'line',
  data: toPoints(path),
  showSymbol: false,
  silent: true,
  z: 2,
  lineStyle: { color: '#c2c2c2', width: 2 },
  emphasis: { disabled: true }
}));

const labelFont = 'Lato, "Open Sans", sans-serif';

// Plot area geometry; the year axis is lifted onto the 0% line.
const gridTop = 15;
const gridBottom = 9;
const chartHeight = 652;
const zeroShare = yTicks[yTicks.length - 1] / (yTicks[yTicks.length - 1] - yTicks[0]);
const zeroLift = (chartHeight - gridTop - gridBottom) * (1 - zeroShare);

chart.setOption({
  animation: false,
  backgroundColor: '#ffffff',
  grid: { left: 61, right: 0, top: gridTop, bottom: gridBottom, containLabel: false },
  xAxis: {
    type: 'value',
    position: 'bottom',
    offset: -zeroLift,
    min: xRange[0],
    max: xRange[1],
    interval: 10,
    z: 10,
    axisLine: { show: false },
    axisTick: { show: false },
    splitLine: { show: false },
    axisLabel: {
      fontFamily: labelFont,
      fontWeight: 'bold',
      fontSize: 14,
      color: '#111111',
      margin: 12,
      showMaxLabel: false,
      formatter: (v) => (xTicks.indexOf(v) >= 0 ? String(v) : '')
    }
  },
  yAxis: {
    type: 'value',
    min: yTicks[0],
    max: yTicks[yTicks.length - 1],
    interval: 10,
    axisLine: { show: false },
    axisTick: { show: false },
    splitLine: { show: true, lineStyle: { color: '#d9d9d9', width: 1.5 } },
    axisLabel: {
      fontFamily: labelFont,
      fontWeight: 'bold',
      fontSize: 13,
      color: '#222222',
      margin: 15,
      formatter: '{value}%'
    }
  },
  series: graySeries.concat([
    {
      type: 'line',
      data: toPoints(averageChange),
      showSymbol: false,
      silent: true,
      z: 3,
      lineStyle: { color: '#2190d4', width: 2.5 }
    },
    {
      type: 'line',
      data: breakYears.map((y, i) => [y, breakValues[i]]),
      showSymbol: false,
      silent: true,
      z: 4,
      lineStyle: { color: '#707070', width: 3.5 }
    }
  ])
});
</script>
</body>
</html>
